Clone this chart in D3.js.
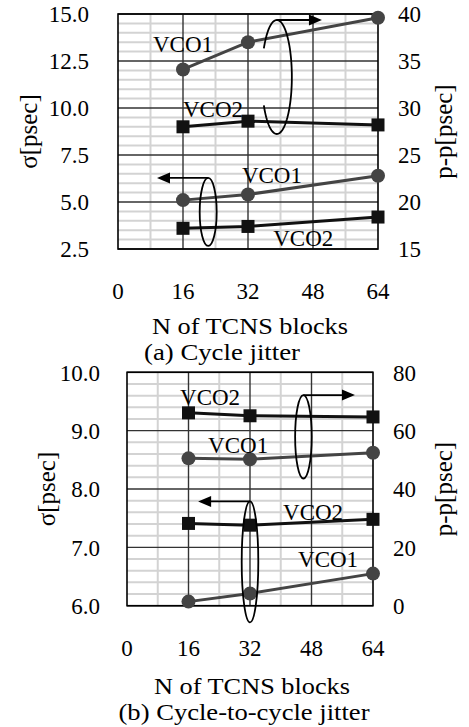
<!DOCTYPE html>
<html>
<head>
<meta charset="utf-8">
<script src="https://cdn.jsdelivr.net/npm/d3@7"></script>
<style>
  body { margin: 0; background: #fff; }
</style>
</head>
<body>
<svg id="vis" width="469" height="727"></svg>
<script>
// number of TCNS blocks measured
var blocks = [16, 32, 64];
var xTicks = [0, 16, 32, 48, 64];

// (a) cycle jitter
var cycSigmaVco1 = [5.1, 5.4, 6.4];
var cycSigmaVco2 = [3.6, 3.7, 4.2];
var cycPpVco1 = [34.1, 37.0, 39.6];
var cycPpVco2 = [28.0, 28.6, 28.2];
var cycLeftTicks = [2.5, 5.0, 7.5, 10.0, 12.5, 15.0];
var cycRightTicks = [15, 20, 25, 30, 35, 40];

// (b) cycle-to-cycle jitter
var c2cSigmaVco1 = [6.07, 6.21, 6.55];
var c2cSigmaVco2 = [7.41, 7.38, 7.48];
var c2cPpVco1 = [50.5, 50.2, 52.4];
var c2cPpVco2 = [66.1, 65.1, 64.7];
var c2cLeftTicks = [6.0, 7.0, 8.0, 9.0, 10.0];
var c2cRightTicks = [0, 20, 40, 60, 80];

var FONT = "'Liberation Serif', 'Times New Roman', serif";

var svg = d3.select("#vis").style("font-family", FONT);

function txt(g) {
	return g.append("text").style("font-family", FONT).style("fill", "#000");
}

function drawPanel(p) {
	var x = d3.scaleLinear().domain([0, 64]).range([p.left, p.right]);
	var yL = d3.scaleLinear().domain(d3.extent(p.leftTicks)).range([p.bottom, p.top]);
	var yR = d3.scaleLinear().domain(d3.extent(p.rightTicks)).range([p.bottom, p.top]);
	var g = svg.append("g");

	// minor grid
	var minorY = d3.range(yL.domain()[0], yL.domain()[1] + 1e-9, p.minorStep)
	               .filter(v => p.leftTicks.every(t => Math.abs(t - v) > 1e-6));
	g.selectAll(".minh").data(minorY).enter().append("line")
	 .attr("x1", p.left).attr("x2", p.right)
	 .attr("y1", d => yL(d)).attr("y2", d => yL(d))
	 .style("stroke", "#d3d3d3").style("stroke-width", 2);
	g.selectAll(".minv").data([8, 24, 40, 56]).enter().append("line")
	 .attr("x1", d => x(d)).attr("x2", d => x(d))
	 .attr("y1", p.top).attr("y2", p.bottom)
	 .style("stroke", "#d3d3d3").style("stroke-width", 2);

	// major grid
	g.selectAll(".majh").data(p.leftTicks).enter().append("line")
	 .attr("x1", p.left).attr("x2", p.right)
	 .attr("y1", d => yL(d)).attr("y2", d => yL(d))
	 .style("stroke", "#333").style("stroke-width", 1.4);
	g.selectAll(".majv").data(xTicks.slice(1, -1)).enter().append("line")
	 .attr("x1", d => x(d)).attr("x2", d => x(d))
	 .attr("y1", p.top).attr("y2", p.bottom)
	 .style("stroke", "#333").style("stroke-width", 1.4);
	g.append("rect")
	 .attr("x", p.left).attr("y", p.top)
	 .attr("width", p.right - p.left).attr("height", p.bottom - p.top)
	 .style("fill", "none").style("stroke", "#000").style("stroke-width", 1.6);

	// tick labels
	p.leftTicks.forEach(d => {
		txt(g).attr("x", p.left - p.leftGap).attr("y", yL(d)).attr("dy", "0.36em")
		 .attr("text-anchor", "end").style("font-size", "23px")
		 .text(d3.format(".1f")(d));
	});
	p.rightTicks.forEach(d => {
		txt(g).attr("x", p.right + 20).attr("y", yR(d)).attr("dy", "0.36em")
		 .style("font-size", "23px").text(d);
	});
	xTicks.forEach(d => {
		txt(g).attr("x", x(d)).attr("y", p.bottom + 50)
		 .attr("text-anchor", "middle").style("font-size", "23px").text(d);
	});

	// axis titles
	var midY = (p.top + p.bottom) / 2;
	txt(g).attr("transform", "translate(" + p.sigmaX + "," + midY + ") rotate(-90)")
	 .attr("text-anchor", "middle").style("font-size", "25px").text("σ[psec]");
	txt(g).attr("transform", "translate(" + p.ppX + "," + midY + ") rotate(-90)")
	 .attr("text-anchor", "middle").style("font-size", "25px").text("p-p[psec]");
	txt(g).attr("x", p.titleX).attr("y", p.titleY)
	 .attr("text-anchor", "middle").style("font-size", p.titleSize + "px")
	 .attr("textLength", 196).attr("lengthAdjust", "spacingAndGlyphs")
	 .text("N of TCNS blocks");
	txt(g).attr("x", p.capX).attr("y", p.capY)
	 .attr("text-anchor", "middle").style("font-size", p.titleSize + "px")
	 .attr("textLength", p.capW).attr("lengthAdjust", "spacingAndGlyphs")
	 .text(p.caption);

	// series
	var series = [
		{v: p.ppVco1, y: yR, c: "#444", m: "circle"},
		{v: p.ppVco2, y: yR, c: "#111", m: "square"},
		{v: p.sigmaVco1, y: yL, c: "#444", m: "circle"},
		{v: p.sigmaVco2, y: yL, c: "#111", m: "square"}
	];
	series.forEach(s => {
		var pts = blocks.map((b, i) => [x(b), s.y(s.v[i])]);
		g.append("path").datum(pts)
		 .attr("d", d3.line())
		 .style("fill", "none").style("stroke", s.c).style("stroke-width", 3);
		if (s.m == "circle") {
			g.selectAll(null).data(pts).enter().append("circle")
			 .attr("cx", d => d[0]).attr("cy", d => d[1]).attr("r", 7)
			 .style("fill", s.c);
		} else {
			g.selectAll(null).data(pts).enter().append("rect")
			 .attr("x", d => d[0] - 6.5).attr("y", d => d[1] - 6.5)
			 .attr("width", 13).attr("height", 13)
			 .style("fill", s.c);
		}
	});

	// series labels
	p.labels.forEach(l => {
		var yy = l.axis == "R" ? yR : yL;
		txt(g).attr("x", x(l.x)).attr("y", yy(l.y))
		 .style("font-size", "23px").text(l.t);
	});

	// loops with arrows
	p.loops.forEach(l => {
		var yy = l.axis == "R" ? yR : yL;
		var cx = x(l.x), cy = yy(l.y);
		if (l.open) {
			// loop with the middle of its left side hidden
			var path = d3.range(150, -151, -3).map(a => {
				var t = a * Math.PI / 180;
				return [cx + l.rx * Math.cos(t), cy - l.ry * Math.sin(t)];
			});
			g.append("path").datum(path).attr("d", d3.line())
			 .style("fill", "none").style("stroke", "#000").style("stroke-width", 1.8);
		} else {
			g.append("ellipse").attr("cx", cx).attr("cy", cy)
			 .attr("rx", l.rx).attr("ry", l.ry)
			 .style("fill", "none").style("stroke", "#000").style("stroke-width", 1.8);
		}
		var ay = cy - l.ry, tip = x(l.tip), dir = tip > cx ? 1 : -1;
		g.append("line").attr("x1", cx).attr("y1", ay).attr("x2", tip - dir * 12).attr("y2", ay)
		 .style("stroke", "#000").style("stroke-width", 1.8);
		g.append("path")
		 .attr("d", d3.line()([[tip, ay], [tip - dir * 13, ay - 5.5], [tip - dir * 13, ay + 5.5]]) + "Z")
		 .style("fill", "#000");
	});
}

drawPanel({
	left: 118, right: 378, top: 14, bottom: 249, leftGap: 29, minorStep: 0.5,
	leftTicks: cycLeftTicks, rightTicks: cycRightTicks,
	sigmaVco1: cycSigmaVco1, sigmaVco2: cycSigmaVco2, ppVco1: cycPpVco1, ppVco2: cycPpVco2,
	sigmaX: 37, ppX: 452, titleX: 250, titleY: 334, capX: 222, capY: 360, capW: 156, titleSize: 24,
	caption: "(a) Cycle jitter",
	labels: [
		{t: "VCO1", x: 8.6, y: 36.0, axis: "R"},
		{t: "VCO2", x: 16.0, y: 29.0, axis: "R"},
		{t: "VCO1", x: 30.5, y: 6.0, axis: "L"},
		{t: "VCO2", x: 38.2, y: 2.66, axis: "L"}
	],
	loops: [
		{x: 39.1, y: 33.3, axis: "R", rx: 15, ry: 57, tip: 50.2, open: true},
		{x: 22.2, y: 4.47, axis: "L", rx: 8.5, ry: 34, tip: 9.6}
	]
});

drawPanel({
	left: 127, right: 373, top: 372.3, bottom: 605.7, leftGap: 27, minorStep: 0.2,
	leftTicks: c2cLeftTicks, rightTicks: c2cRightTicks,
	sigmaVco1: c2cSigmaVco1, sigmaVco2: c2cSigmaVco2, ppVco1: c2cPpVco1, ppVco2: c2cPpVco2,
	sigmaX: 55, ppX: 452, titleX: 252, titleY: 694, capX: 244, capY: 720, capW: 251, titleSize: 23,
	caption: "(b) Cycle-to-cycle jitter",
	labels: [
		{t: "VCO2", x: 13.8, y: 68.8, axis: "R"},
		{t: "VCO1", x: 21.1, y: 52.3, axis: "R"},
		{t: "VCO2", x: 40.6, y: 7.47, axis: "L"},
		{t: "VCO1", x: 44.5, y: 6.66, axis: "L"}
	],
	loops: [
		{x: 45.9, y: 57.9, axis: "R", rx: 8.3, ry: 41.7, tip: 59.3},
		{x: 32.0, y: 6.75, axis: "L", rx: 8.3, ry: 60.5, tip: 18.5}
	]
});
</script>
</body>
</html>
